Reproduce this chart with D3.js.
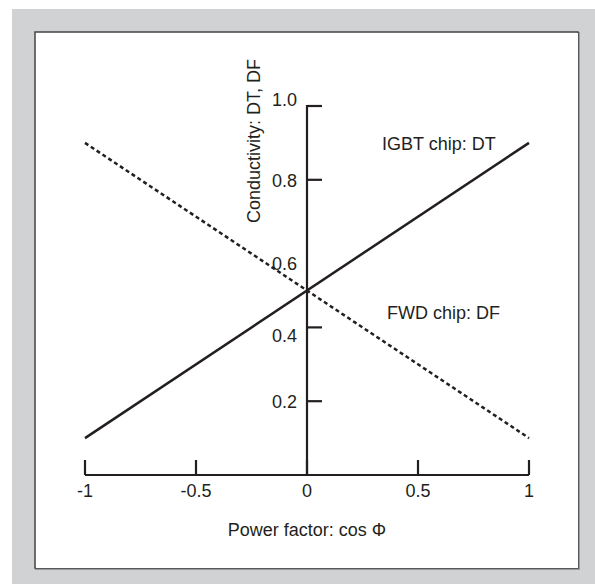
<!DOCTYPE html>
<html>
<head>
<meta charset="utf-8">
<script src="https://cdn.jsdelivr.net/npm/d3@7"></script>
<style>
  body { margin: 0; background: #fff; }
  text { font-family: "Liberation Sans", Arial, sans-serif; fill: #231f20; font-size: 18px; }
</style>
</head>
<body>
<script>
const width = 595
const height = 584

// data
const powerFactor = [-1, 1]
const igbtDT = [0.1, 0.9]
const fwdDF = [0.9, 0.1]
const xTicks = [-1, -0.5, 0, 0.5, 1]
const xTickLabels = ['-1', '-0.5', '0', '0.5', '1']
const yTicks = [0.2, 0.4, 0.8, 1.0]
const yLabelValues = [0.2, 0.4, 0.6, 0.8, 1.0]
const yTickLabels = ['0.2', '0.4', '0.6', '0.8', '1.0']
// labels in the original sit a bit off their value (moved away from the lines)
const yLabelShift = [0, 8, 10, 1, -6]

const ink = '#231f20'

var svg = d3.select('body').append('svg')
    .attr('width', width)
    .attr('height', height)

// gray frame and white panel
svg.append('rect')
    .attr('x', 12).attr('y', 9)
    .attr('width', width - 12).attr('height', height - 9)
    .style('fill', '#d1d2d4')

svg.append('rect')
    .attr('x', 35).attr('y', 32)
    .attr('width', 545).attr('height', 538)
    .style('fill', '#9a9a9a')

svg.append('rect')
    .attr('x', 35).attr('y', 32)
    .attr('width', 543).attr('height', 536)
    .style('fill', '#fff')
    .style('stroke', '#444')
    .style('stroke-width', 1.5)

svg.append('rect')
    .attr('x', 36).attr('y', 33)
    .attr('width', 542).attr('height', 535)
    .style('fill', '#fff')

const x = d3.scaleLinear().domain([-1, 1]).range([85, 529])
const y = d3.scaleLinear().domain([0, 1]).range([475, 106])

// x axis: baseline with upward ticks
svg.append('line')
    .attr('x1', x(-1)).attr('x2', x(1))
    .attr('y1', y(0)).attr('y2', y(0))
    .style('stroke', ink).style('stroke-width', 2.2)

svg.selectAll('.xtick').data(xTicks).enter().append('line')
    .attr('x1', d => x(d)).attr('x2', d => x(d))
    .attr('y1', y(0)).attr('y2', y(0) - 15)
    .style('stroke', ink).style('stroke-width', 2.2)

svg.selectAll('.xlab').data(xTicks).enter().append('text')
    .attr('x', d => x(d))
    .attr('y', y(0) + 22)
    .attr('text-anchor', 'middle')
    .text((d, i) => xTickLabels[i])

// y axis at x = 0 with ticks to the right
svg.append('line')
    .attr('x1', x(0)).attr('x2', x(0))
    .attr('y1', y(0)).attr('y2', y(1) - 1)
    .style('stroke', ink).style('stroke-width', 2.2)

svg.selectAll('.ytick').data(yTicks).enter().append('line')
    .attr('x1', x(0)).attr('x2', x(0) + 15)
    .attr('y1', d => y(d)).attr('y2', d => y(d))
    .style('stroke', ink).style('stroke-width', 2.2)

svg.selectAll('.ylab').data(yLabelValues).enter().append('text')
    .attr('x', x(0) - 10)
    .attr('y', (d, i) => y(d) + yLabelShift[i])
    .attr('dy', '0.35em')
    .attr('text-anchor', 'end')
    .text((d, i) => yTickLabels[i])

// lines
var line = d3.line()
    .x(d => x(d[0]))
    .y(d => y(d[1]))

svg.append('path')
    .datum(powerFactor.map((p, i) => [p, igbtDT[i]]))
    .attr('d', line)
    .style('fill', 'none')
    .style('stroke', ink)
    .style('stroke-width', 2.5)

svg.append('path')
    .datum(powerFactor.map((p, i) => [p, fwdDF[i]]))
    .attr('d', line)
    .style('fill', 'none')
    .style('stroke', ink)
    .style('stroke-width', 2.5)
    .style('stroke-dasharray', '4,3')

// labels
svg.append('text')
    .attr('x', 382).attr('y', 150)
    .text('IGBT chip: DT')

svg.append('text')
    .attr('x', 387).attr('y', 319)
    .text('FWD chip: DF')

svg.append('text')
    .attr('x', x(0)).attr('y', 536)
    .attr('text-anchor', 'middle')
    .text('Power factor: cos Φ')

svg.append('text')
    .attr('transform', 'translate(260,59) rotate(-90)')
    .attr('text-anchor', 'end')
    .text('Conductivity: DT, DF')
</script>
</body>
</html>
